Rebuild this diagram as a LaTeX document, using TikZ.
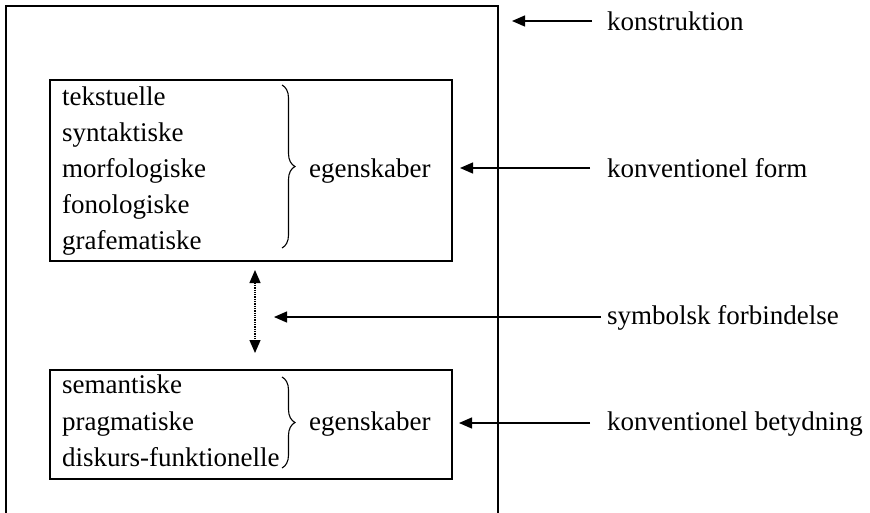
\documentclass[tikz,border=0pt]{standalone}
\usepackage{fontspec}
\setmainfont{Liberation Serif}
\usetikzlibrary{arrows.meta,decorations.pathreplacing}
\begin{document}
\begin{tikzpicture}[x=1pt,y=-1pt,
  font=\fontsize{27}{32}\selectfont,
  frame/.style={line width=2pt},
  box/.style={draw,line width=2pt,anchor=north west,inner sep=0pt},
  txt/.style={anchor=base west,inner sep=0pt},
  arr/.style={line width=1.3pt,-{Triangle[length=13pt,width=11pt]}},
  dbl/.style={line width=1.3pt,densely dotted,
    {Triangle[length=13pt,width=11pt]}-{Triangle[length=13pt,width=11pt]}},
  brc/.style={line width=1.1pt,decorate,
    decoration={brace,amplitude=13pt,aspect=0.5}}]
\useasboundingbox (0,0) rectangle (870,512);
\clip (0,0) rectangle (870,512);

% outer construction frame (open at the bottom edge)
\draw[frame] (6,530) -- (6,6) -- (498,6) -- (498,530);

% form box
\node[box,minimum width=402pt,minimum height=181pt] (upper) at (49,79) {};
\node[txt] (u1) at (62,105) {tekstuelle};
\node[txt] (u2) at (62,141) {syntaktiske};
\node[txt] (u3) at (62,177) {morfologiske};
\node[txt] (u4) at (62,213) {fonologiske};
\node[txt] (u5) at (62,249) {grafematiske};
\draw[brc] (282,85) -- (282,248);
\node[txt] (ue) at (309,177) {egenskaber};

% meaning box
\node[box,minimum width=402pt,minimum height=109pt] (lower) at (49,369) {};
\node[txt] (l1) at (62,393) {semantiske};
\node[txt] (l2) at (62,430) {pragmatiske};
\node[txt] (l3) at (62,466) {diskurs-funktionelle};
\draw[brc] (282,377) -- (282,468);
\node[txt] (le) at (309,430) {egenskaber};

% symbolic link between form and meaning
\coordinate (dp) at (255,0);
\draw[dbl,shorten <=8pt,shorten >=16pt] (upper.south -| dp) -- (lower.north -| dp);

% labels on the right
\node[txt] (kon) at (607,30) {konstruktion};
\node[txt] (form) at (607,177) {konventionel form};
\node[txt] (sym) at (607,324) {symbolsk forbindelse};
\node[txt] (bet) at (607,430) {konventionel betydning};

\coordinate (konTip) at (512,21);
\coordinate (formTip) at (460,168);
\coordinate (symTip) at (274,317);
\coordinate (betTip) at (459,423);
\draw[arr] ([xshift=-15pt]kon.base west |- konTip) -- (konTip);
\draw[arr] ([xshift=-17pt]form.base west |- formTip) -- (formTip);
\draw[arr] ([xshift=-6pt]sym.base west |- symTip) -- (symTip);
\draw[arr] ([xshift=-17pt]bet.base west |- betTip) -- (betTip);
\end{tikzpicture}
\end{document}
